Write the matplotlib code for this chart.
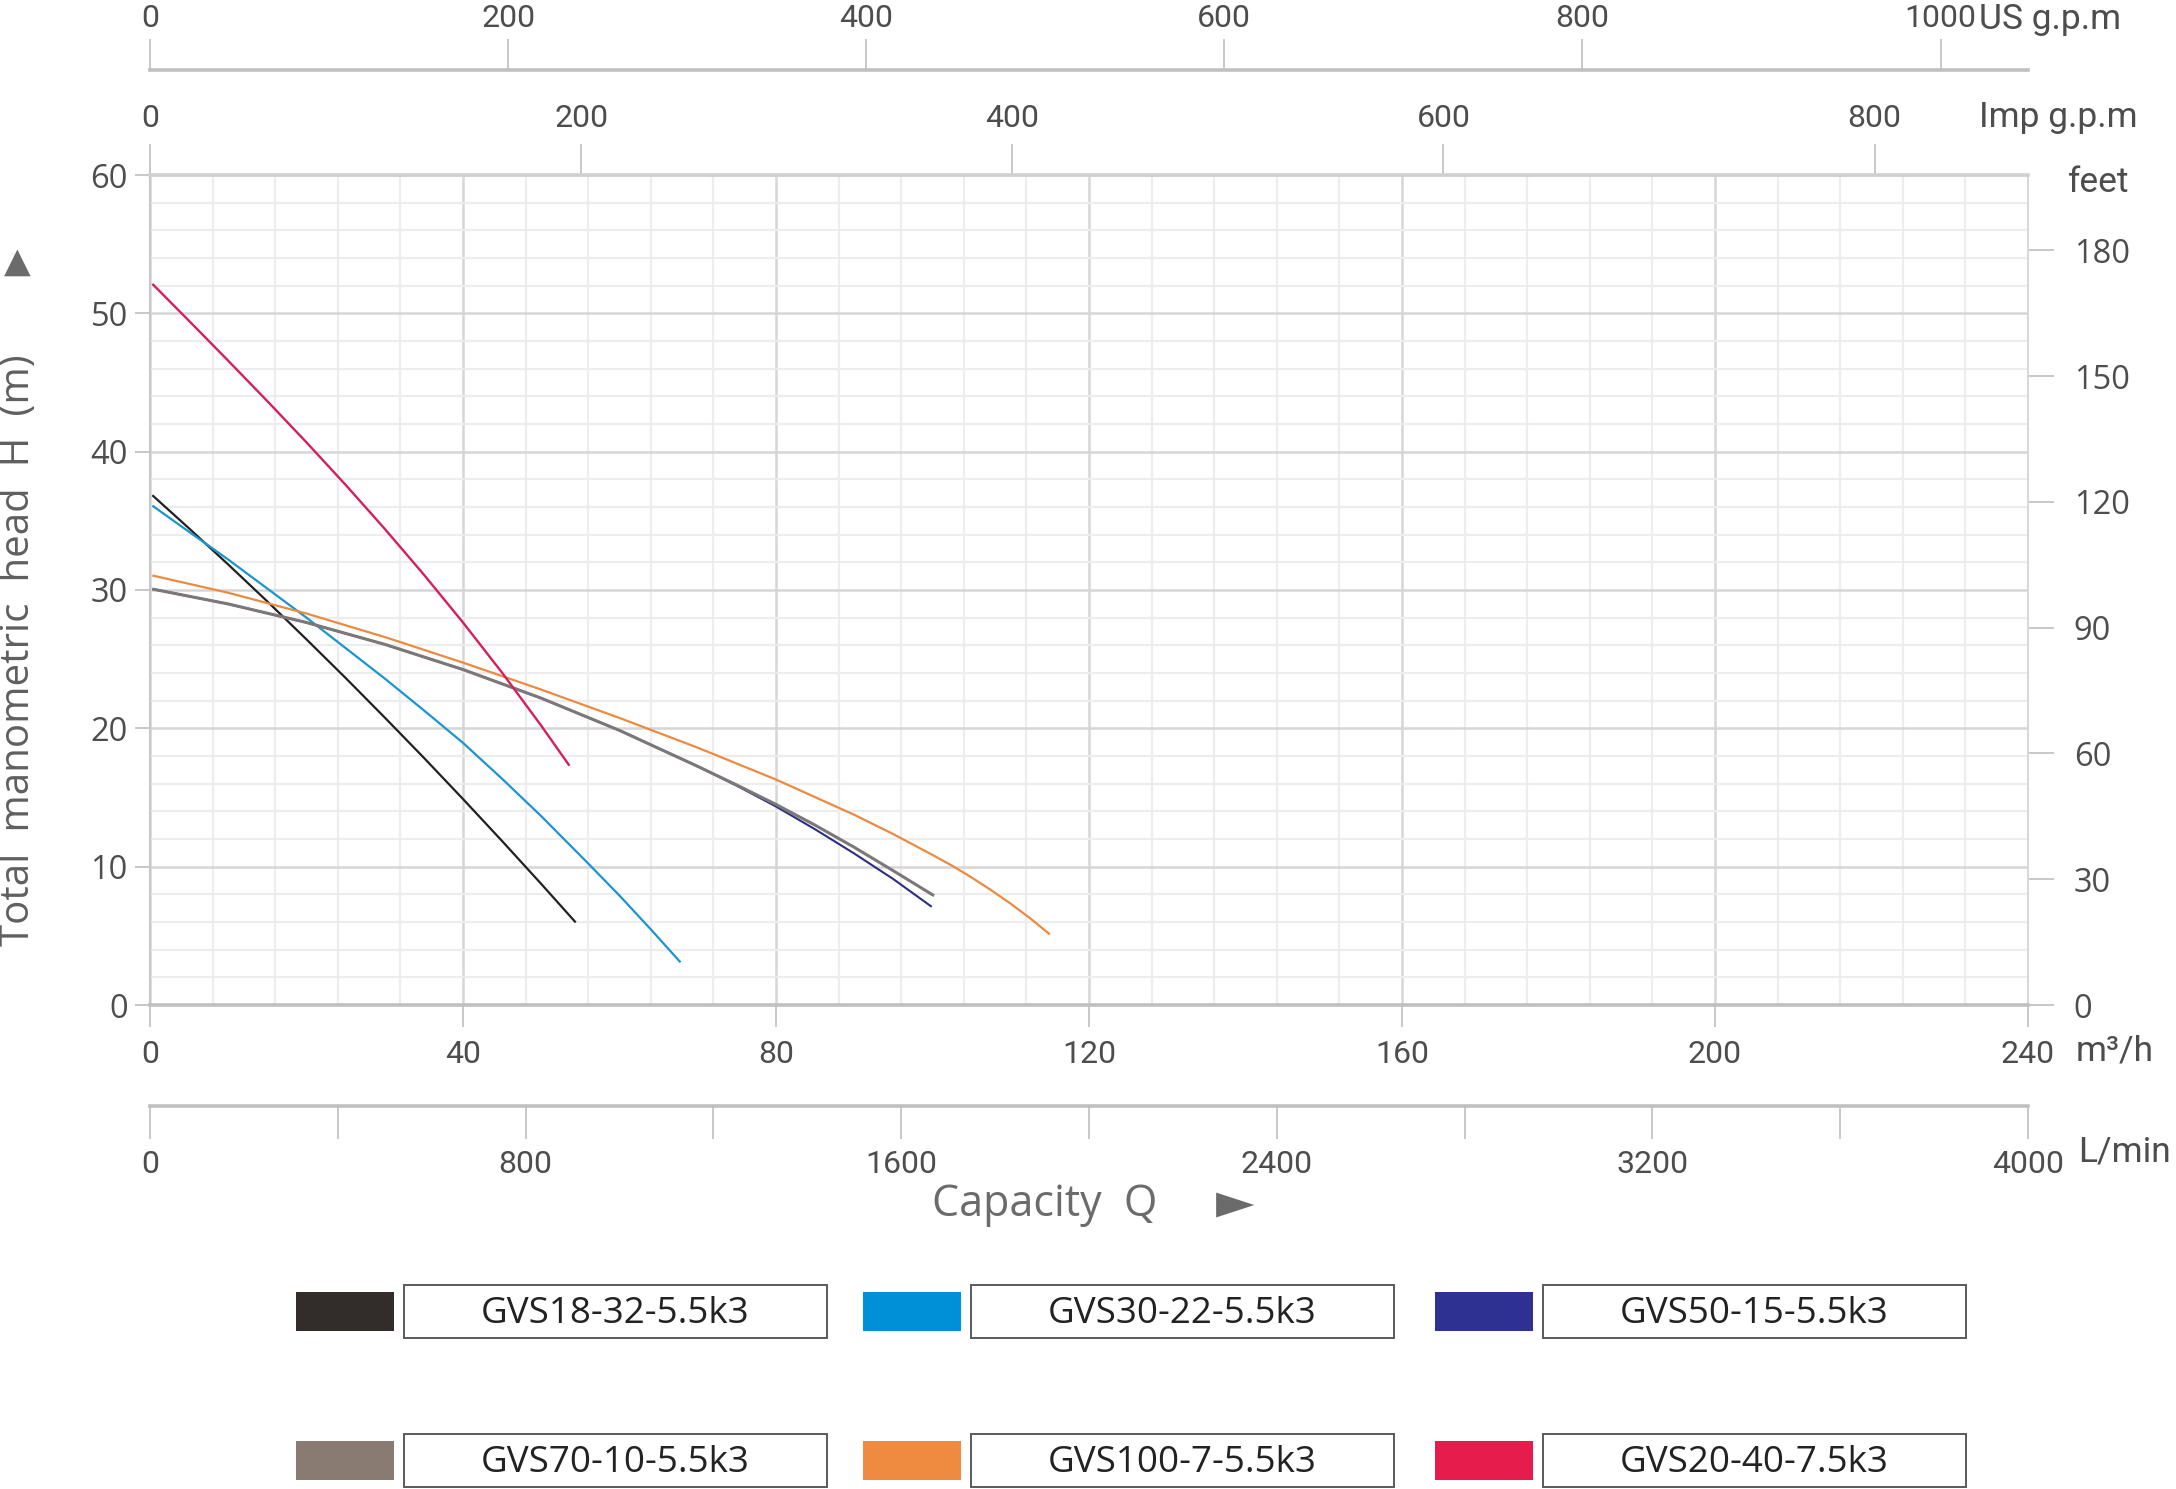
import matplotlib
matplotlib.use('Agg')
import matplotlib.pyplot as plt
from matplotlib.patches import Rectangle
from matplotlib.ticker import MultipleLocator, FixedLocator

plt.rcParams['font.family'] = ['Roboto', 'DejaVu Sans']

# pump curves: flow Q in m3/h, head H in m
models = ['GVS18-32-5.5k3', 'GVS30-22-5.5k3', 'GVS50-15-5.5k3',
          'GVS70-10-5.5k3', 'GVS100-7-5.5k3', 'GVS20-40-7.5k3']

q_18_32 = [0.3, 5, 10, 15, 20, 25, 30, 35, 40, 45, 50, 54.4]
h_18_32 = [36.85, 34.45, 31.84, 29.17, 26.43, 23.64, 20.78, 17.87, 14.89, 11.85, 8.75, 5.97]

q_30_22 = [0.3, 5, 10, 15, 20, 25, 30, 35, 40, 45, 50, 56, 60, 64, 67.8]
h_30_22 = [36.1, 34.2, 32.2, 30.1, 28.0, 25.8, 23.6, 21.3, 18.95, 16.35, 13.65, 10.23,
           7.91, 5.47, 3.08]

q_50_15 = [0.3, 10, 20, 30, 40, 50, 60, 70, 75, 80, 85, 90, 95, 99.9]
h_50_15 = [30.07, 28.99, 27.65, 26.07, 24.25, 22.18, 19.85, 17.25, 15.85, 14.35, 12.7,
           10.95, 9.1, 7.1]

q_70_10 = [0.3, 10, 20, 30, 40, 50, 60, 70, 75, 80, 85, 90, 95, 100.2]
h_70_10 = [30.07, 28.99, 27.65, 26.07, 24.25, 22.18, 19.85, 17.25, 15.9, 14.5, 13.0,
           11.4, 9.7, 7.9]

q_100_7 = [0.3, 10, 20, 30, 40, 50, 60, 70, 80, 90, 95, 100, 102.5, 105, 107.5, 110,
           112.5, 115]
h_100_7 = [31.05, 29.8, 28.3, 26.6, 24.75, 22.8, 20.75, 18.6, 16.3, 13.75, 12.35, 10.85,
           10.07, 9.22, 8.30, 7.32, 6.26, 5.1]

q_20_40 = [0.3, 5, 10, 15, 20, 25, 30, 35, 40, 45, 50, 53.6]
h_20_40 = [52.13, 49.45, 46.57, 43.65, 40.67, 37.6, 34.42, 31.11, 27.65, 24.02, 20.19, 17.3]

curves_q = [q_18_32, q_30_22, q_50_15, q_70_10, q_100_7, q_20_40]
curves_h = [h_18_32, h_30_22, h_50_15, h_70_10, h_100_7, h_20_40]
line_colors = ['#231f20', '#1b95d0', '#2b2e83', '#7d7779', '#ec8a40', '#d4205a']
line_widths = [1.6, 1.6, 1.5, 2.2, 1.6, 1.7]
swatch_colors = ['#322c2b', '#0090d8', '#2e3191', '#8a7b72', '#ef8a41', '#e61d4c']

us_ticks = [0, 200, 400, 600, 800, 1000]
imp_ticks = [0, 200, 400, 600, 800]
m3h_ticks = [0, 40, 80, 120, 160, 200, 240]
lmin_ticks = [0, 800, 1600, 2400, 3200, 4000]
lmin_minor = [400, 1200, 2000, 2800, 3600]
head_ticks = [0, 10, 20, 30, 40, 50, 60]
feet_ticks = [0, 30, 60, 90, 120, 150, 180]

# unit factors as drawn on the chart's scales
IMP = 3.63
US = 4.37
LMIN = 4000 / 240
FT = 3.30

W, H = 2176, 1489
TXT = '#4d4d4d'
TICK = '#c4c4c4'

fig = plt.figure(figsize=(W / 100, H / 100), dpi=100)
ax = fig.add_axes([150 / W, 1 - 1005 / H, 1878 / W, 830 / H])
ax.set_xlim(0, 240)
ax.set_ylim(0, 60)

ax.xaxis.set_major_locator(FixedLocator(m3h_ticks))
ax.xaxis.set_minor_locator(MultipleLocator(8))
ax.yaxis.set_major_locator(FixedLocator(head_ticks))
ax.yaxis.set_minor_locator(MultipleLocator(2))
ax.grid(which='minor', color='#ededed', lw=1.6)
ax.grid(which='major', color='#d6d6d6', lw=1.8)
ax.set_axisbelow(True)
ax.tick_params(which='minor', length=0)
ax.tick_params(axis='x', which='major', direction='out', length=16, width=1.3,
               color=TICK, labelsize=23, labelcolor=TXT, pad=9)
ax.tick_params(axis='y', which='major', direction='out', length=11, width=1.3,
               color=TICK, labelsize=23.5, labelcolor=TXT, pad=5)
for lab in ax.get_yticklabels():
    lab.set_fontfamily(['Open Sans', 'DejaVu Sans'])
for side, lw, c in [('left', 1.5, '#c8c8c8'), ('bottom', 2.6, '#c0c0c0'),
                    ('top', 2.6, '#d0d0d0'), ('right', 1.5, '#d8d8d8')]:
    ax.spines[side].set_linewidth(lw)
    ax.spines[side].set_color(c)

# curves (navy before grey so the grey one sits on top where they overlap)
for i in range(len(models)):
    ax.plot(curves_q[i], curves_h[i], color=line_colors[i], lw=line_widths[i],
            solid_capstyle='butt', solid_joinstyle='round', zorder=3)

# Imp g.p.m scale on the top spine
imp = ax.secondary_xaxis('top', functions=(lambda q: q * IMP, lambda g: g / IMP))
imp.set_xticks(imp_ticks)
imp.tick_params(direction='out', length=22, width=1.3, color=TICK,
                labelsize=23, labelcolor=TXT, pad=8)
imp.spines['top'].set_visible(False)

# US g.p.m scale above
us = ax.secondary_xaxis(1.1265, functions=(lambda q: q * US, lambda g: g / US))
us.set_xticks(us_ticks)
us.tick_params(direction='out', length=22, width=1.3, color=TICK,
               labelsize=23, labelcolor=TXT, pad=5)
us.spines['top'].set_color('#c0c0c0')
us.spines['top'].set_linewidth(2.6)

# L/min scale below
lm = ax.secondary_xaxis(-0.1217, functions=(lambda q: q * LMIN, lambda l: l / LMIN))
lm.xaxis.set_major_locator(FixedLocator(lmin_ticks))
lm.xaxis.set_minor_locator(FixedLocator(lmin_minor))
lm.tick_params(which='both', direction='out', length=24, width=1.3, color=TICK,
               labelsize=23, labelcolor=TXT, pad=8)
lm.spines['bottom'].set_color('#c0c0c0')
lm.spines['bottom'].set_linewidth(2.6)

# feet scale on the right
ft = ax.secondary_yaxis('right', functions=(lambda h: h * FT, lambda f: f / FT))
ft.set_yticks(feet_ticks)
ft.tick_params(direction='out', length=19, width=1.3, color=TICK,
               labelsize=23.5, labelcolor=TXT, pad=14)
ft.spines['right'].set_visible(False)
for lab in ft.get_yticklabels():
    lab.set_fontfamily(['Open Sans', 'DejaVu Sans'])

# overlay in pixel coordinates for unit names, titles and legend
ov = fig.add_axes([0, 0, 1, 1], zorder=5)
ov.set_xlim(0, W)
ov.set_ylim(H, 0)
ov.set_axis_off()
ov.patch.set_alpha(0)

for s, x, y in [('US g.p.m', 1979, 20), ('Imp g.p.m', 1979, 117), ('feet', 2068, 182),
                ('m³/h', 2076, 1051), ('L/min', 2078, 1152)]:
    ov.text(x, y, s, fontsize=25.5, color=TXT, ha='left', va='center')

ov.text(19, 650, 'Total  manometric  head  H  (m)', rotation=90, ha='center', va='center',
        fontsize=29, color='#5f5f5f', family=['Open Sans', 'DejaVu Sans'])
ov.text(17, 262, '▲', ha='center', va='center', fontsize=25, color='#6b6b6b',
        family='DejaVu Sans')
ov.text(1045, 1205, 'Capacity  Q', ha='center', va='center', fontsize=31,
        color='#6b6b6b', family=['Open Sans', 'DejaVu Sans'])
ov.text(1235, 1204, '►', ha='center', va='center', fontsize=36, color='#6b6b6b',
        family='DejaVu Sans')

# legend: two rows of three swatch + boxed name
col_x = [296, 863, 1435]
row_y = [1292, 1441]
for k, name in enumerate(models):
    r, c = divmod(k, 3)
    x0, y0 = col_x[c], row_y[r]
    ov.add_patch(Rectangle((x0, y0), 98, 39, facecolor=swatch_colors[k], edgecolor='none'))
    ov.add_patch(Rectangle((x0 + 108, y0 - 7), 423, 53, facecolor='white',
                           edgecolor='#5a5a5a', lw=1.4))
    ov.text(x0 + 108 + 211, y0 + 22, name, ha='center', va='center', fontsize=26.5,
            color='#222222', family=['Open Sans', 'DejaVu Sans'])

fig.savefig('out.png', dpi=100, facecolor='white')
